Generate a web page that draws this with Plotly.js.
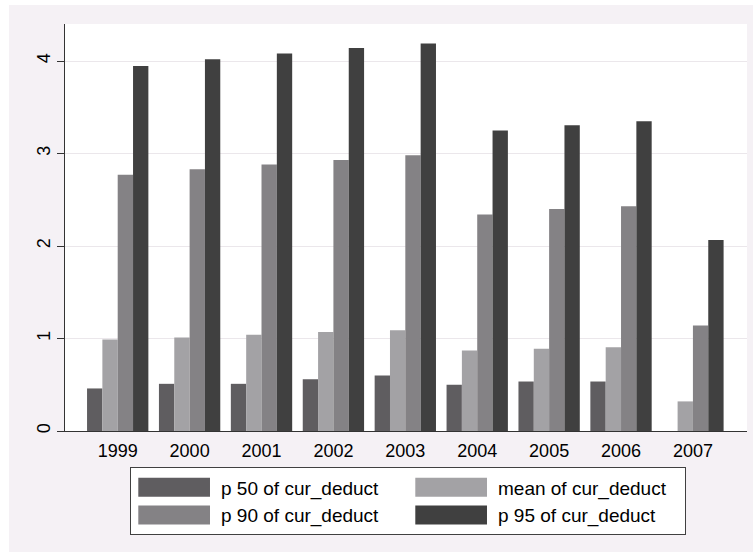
<!DOCTYPE html>
<html>
<head>
<meta charset="utf-8">
<script src="https://cdn.plot.ly/plotly-3.0.1.min.js"></script>
<style>
  html, body { margin: 0; padding: 0; background: #ffffff; }
  #chart { position: absolute; left: 9px; top: 5px; width: 744px; height: 547px; }
</style>
</head>
<body>
<div id="chart"></div>
<script>
const years = ["1999", "2000", "2001", "2002", "2003", "2004", "2005", "2006", "2007"];
const p50  = [0.46, 0.51, 0.51, 0.56, 0.60, 0.50, 0.535, 0.535, null];
const mean = [0.99, 1.01, 1.04, 1.07, 1.09, 0.87, 0.89, 0.905, 0.32];
const p90  = [2.77, 2.83, 2.88, 2.93, 2.98, 2.34, 2.40, 2.43, 1.14];
const p95  = [3.945, 4.02, 4.08, 4.14, 4.19, 3.25, 3.305, 3.35, 2.065];
const seriesNames = ["p 50 of cur_deduct", "mean of cur_deduct", "p 90 of cur_deduct", "p 95 of cur_deduct"];
const seriesColors = ["#5f5d60", "#a3a2a5", "#848285", "#404040"];
const seriesValues = [p50, mean, p90, p95];

const traces = seriesValues.map((vals, i) => ({
  type: "bar",
  x: years,
  y: vals,
  name: seriesNames[i],
  marker: { color: seriesColors[i], line: { width: 0 } },
  hoverinfo: "x+y+name"
}));

const layout = {
  width: 744,
  height: 547,
  margin: { l: 56, r: 6, t: 19, b: 121 },
  paper_bgcolor: "#f5f1f5",
  plot_bgcolor: "#ffffff",
  font: { family: "Liberation Sans, Arial, sans-serif", color: "#000000", size: 18 },
  barmode: "group",
  bargap: 0.147,
  bargroupgap: 0,
  showlegend: true,
  xaxis: {
    type: "category",
    range: [-0.733, 8.752],
    showline: true,
    linecolor: "#333333",
    linewidth: 1,
    ticks: "",
    showgrid: false,
    zeroline: false,
    ticklabelstandoff: 3,
    tickfont: { size: 18 }
  },
  yaxis: {
    range: [0, 4.40],
    tickvals: [0, 1, 2, 3, 4],
    ticktext: ["0", "1", "2", "3", "4"],
    ticks: "outside",
    ticklen: 7,
    tickcolor: "#333333",
    tickwidth: 1,
    tickangle: -90,
    showline: true,
    linecolor: "#333333",
    linewidth: 1,
    showgrid: true,
    gridcolor: "#ebe7eb",
    gridwidth: 1,
    zeroline: false,
    tickfont: { size: 18 }
  },
  legend: {
    orientation: "h",
    x: 0.0953,
    y: -0.0893,
    xanchor: "left",
    yanchor: "top",
    bgcolor: "#ffffff",
    bordercolor: "#404040",
    borderwidth: 1,
    font: { size: 19 },
    itemwidth: 80,
    entrywidth: 182,
    traceorder: "normal"
  }
};

Plotly.newPlot("chart", traces, layout, { displayModeBar: false, staticPlot: true }).then(function(gd) {
  gd.querySelectorAll(".legend .legendpoints path").forEach(function(p) {
    const d = p.getAttribute("d") || "";
    if (d.indexOf("H-6") >= 0) {
      p.setAttribute("d", "M34,9.5H-37.7V-9.5H34Z");
    }
  });
});
</script>
</body>
</html>
